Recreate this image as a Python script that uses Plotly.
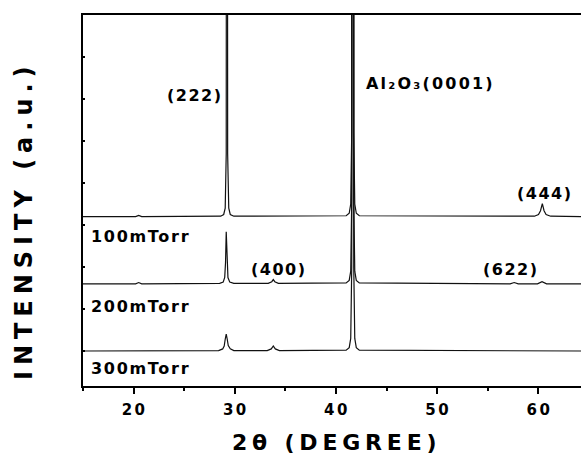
import json
import plotly.graph_objects as go

# ---------------- data ----------------
series_names = ["100mTorr", "200mTorr", "300mTorr"]
series_offsets = [3.2, 1.6, 0.0]          # vertical stacking offsets (a.u.)

two_theta_100 = [15.0, 20.2, 20.5, 20.8,
                 28.6, 28.9, 29.05, 29.15, 29.22, 29.29, 29.4, 29.55, 29.9,
                 41.0, 41.3, 41.45, 41.55, 41.65, 41.75, 41.85, 42.0, 42.3,
                 59.6, 60.0, 60.2, 60.38, 60.55, 60.75, 61.2, 64.2]
intensity_100 = [0, 0, 0.03, 0,
                 0.01, 0.05, 0.2, 1.5, 40, 1.5, 0.2, 0.05, 0.01,
                 0.02, 0.08, 0.3, 2.0, 60, 2.0, 0.3, 0.08, 0.02,
                 0.01, 0.05, 0.14, 0.31, 0.14, 0.05, 0.01, 0]

two_theta_200 = [15.0, 20.2, 20.5, 20.8,
                 28.5, 28.85, 29.0, 29.08, 29.15, 29.22, 29.32, 29.5, 29.9,
                 33.3, 33.65, 33.8, 33.95, 34.3,
                 41.0, 41.3, 41.45, 41.55, 41.65, 41.75, 41.85, 42.0, 42.3,
                 57.2, 57.6, 58.0, 59.9, 60.35, 60.8, 64.2]
intensity_200 = [0, 0, 0.03, 0,
                 0.01, 0.04, 0.15, 0.5, 1.24, 0.5, 0.15, 0.04, 0.01,
                 0.01, 0.05, 0.1, 0.05, 0.01,
                 0.02, 0.08, 0.3, 2.0, 60, 2.0, 0.3, 0.08, 0.02,
                 0, 0.03, 0, 0, 0.05, 0, 0]

two_theta_300 = [15.0, 28.4, 28.8, 28.95, 29.05, 29.15, 29.25, 29.35, 29.55, 29.9,
                 33.2, 33.6, 33.8, 34.0, 34.4,
                 41.0, 41.3, 41.45, 41.55, 41.65, 41.75, 41.85, 42.0, 42.3, 64.2]
intensity_300 = [0, 0.01, 0.05, 0.12, 0.28, 0.40, 0.28, 0.13, 0.05, 0.01,
                 0.01, 0.05, 0.12, 0.05, 0.01,
                 0.02, 0.08, 0.3, 2.0, 60, 2.0, 0.3, 0.08, 0.02, 0]

peak_labels = ["(222)", "Al₂O₃(0001)", "(444)", "(400)", "(622)"]
x_tick_values = [20, 30, 40, 50, 60]
x_tick_labels = ["20", "30", "40", "50", "60"]
x_title = "2θ (DEGREE)"
y_title = "INTENSITY (a.u.)"

# ---------------- figure ----------------
FONT = "DejaVu Sans"
fig = go.Figure()
xs = [two_theta_100, two_theta_200, two_theta_300]
ys = [intensity_100, intensity_200, intensity_300]
for name, off, x, y in zip(series_names, series_offsets, xs, ys):
    fig.add_trace(go.Scatter(x=x, y=[v + off for v in y], mode="lines", name=name,
                             line=dict(color="#111111", width=1.2), showlegend=False,
                             hoverinfo="skip"))

annotations = []
spacing = []

def add_ann(text, x, y, xref="x", yref="y", size=16, ls=1.5, xanchor="left",
            yanchor="middle", angle=0):
    annotations.append(dict(text=text, x=x, y=y, xref=xref, yref=yref, showarrow=False,
                            xanchor=xanchor, yanchor=yanchor, align="left",
                            textangle=angle, borderpad=0, borderwidth=0,
                            font=dict(family=FONT, size=size, color="black", weight="bold")))
    spacing.append(ls)

# peak labels (data coordinates)
add_ann(peak_labels[0], 23.25, 6.08)
add_ann(peak_labels[1], 43.0, 6.36, ls=2.2)
add_ann(peak_labels[2], 57.9, 3.76)
add_ann(peak_labels[3], 31.6, 1.95)
add_ann(peak_labels[4], 54.55, 1.93)
# series labels
add_ann(series_names[0], 15.8, 2.73, ls=1.7)
add_ann(series_names[1], 15.8, 1.06, ls=1.7)
add_ann(series_names[2], 15.75, -0.42, ls=1.7)
# axis titles
add_ann(x_title, 0.30, -0.152, xref="paper", yref="paper", size=22, ls=4.8)
add_ann(y_title, -0.1185, 0.016, xref="paper", yref="paper", size=24, ls=6.0,
        xanchor="center", yanchor="bottom", angle=-90)

fig.update_layout(
    width=581, height=455,
    margin=dict(l=83, r=0, t=15, b=69, pad=0),
    paper_bgcolor="white", plot_bgcolor="white",
    font=dict(family=FONT, color="black"),
    annotations=annotations,
    xaxis=dict(range=[15, 64.2], tickmode="array", tickvals=x_tick_values,
               ticktext=x_tick_labels, ticks="outside", ticklen=6, tickwidth=2,
               tickcolor="black", showline=True, linewidth=2, linecolor="black",
               mirror=True, showgrid=False, zeroline=False, ticklabelshift=1,
               ticklabelstandoff=3,
               tickfont=dict(family=FONT, size=15, color="black", weight="bold"),
               minor=dict(tickmode="linear", tick0=15, dtick=5, ticks="outside",
                          ticklen=3, tickwidth=2, tickcolor="black", showgrid=False)),
    yaxis=dict(range=[-0.833, 8.0], tick0=0, dtick=1, ticks="inside", ticklen=2,
               tickwidth=2, tickcolor="black", showticklabels=False, showline=True,
               linewidth=2, linecolor="black", showgrid=False, zeroline=False),
)

post = """
var gd = document.getElementById('{plot_id}');
var sp = %s;
gd.querySelectorAll('g.annotation').forEach(function(g){
  var i = +g.getAttribute('data-index');
  var t = g.querySelector('text.annotation-text');
  if (t && sp[i] !== undefined) { t.style.letterSpacing = sp[i] + 'px'; }
});
gd.querySelectorAll('.xtick text').forEach(function(t){ t.style.letterSpacing = '2.5px'; });
""" % json.dumps(spacing)

fig.write_html("out.html", config={"displayModeBar": False}, post_script=post)
